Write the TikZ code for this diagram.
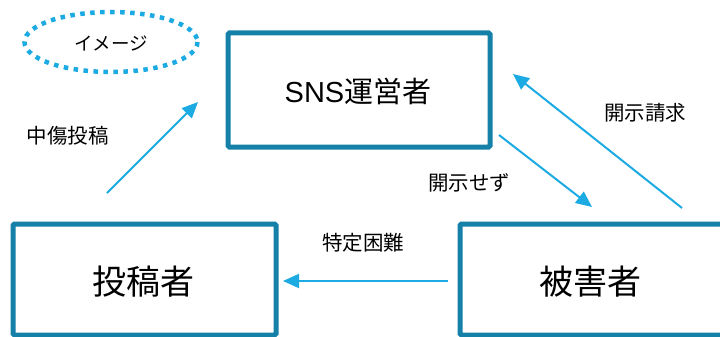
\documentclass[tikz,border=0pt]{standalone}
\usepackage{fontspec}
\setmainfont{Noto Sans CJK JP}
\newfontfamily\latinsans{Liberation Sans}
\usetikzlibrary{arrows.meta}
\definecolor{boxblue}{HTML}{1580A8}
\definecolor{arrblue}{HTML}{1BAAE2}
\tikzset{
  box/.style={draw=boxblue, line width=5pt, rounded corners=1.5pt, inner sep=0pt},
  bigtext/.style={font=\fontsize{34}{38}\selectfont, text=black, inner sep=0pt},
  smalltext/.style={font=\fontsize{20.5}{24}\selectfont, text=black, inner sep=0pt},
  conn/.style={draw=arrblue, line width=2pt, -{Triangle[length=16pt,width=14pt]}},
}
\begin{document}
\begin{tikzpicture}[x=1pt,y=-1pt]
\useasboundingbox (0,0) rectangle (720,337);
\clip (0,0) rectangle (720,337);
% legend ellipse
\draw[arrblue, line width=4.5pt, dash pattern=on 4.5pt off 5.5pt] (111,42) ellipse [x radius=86.5, y radius=30];
\node[smalltext, font=\fontsize{18.5}{22}\selectfont] (img) at (111,43) {イメージ};
% boxes
\node[box, minimum width=262pt, minimum height=114pt] (sns) at (359,90) {};
\node[bigtext, font=\fontsize{29}{34}\selectfont] (snst) at (358,91) {{\latinsans SNS}運営者};
\node[box, minimum width=263pt, minimum height=111pt] (poster) at (144.5,279.5) {};
\node[bigtext] (postert) at (143,282) {投稿者};
\node[box, minimum width=300pt, minimum height=111pt] (victim) at (610,279.5) {};
\node[bigtext] (victimt) at (590,282) {被害者};
% arrow endpoints
\coordinate (a1s) at (107,193);
\coordinate (a1e) at (198,102);
\coordinate (a2s) at (499,135);
\coordinate (a2e) at (592,207);
\coordinate (a3s) at (682,208);
\coordinate (a3e) at (513,74);
\coordinate (a4s) at (448,281);
\coordinate (a4e) at (283,281);
\draw[conn] (a1s) -- (a1e);
\draw[conn] (a2s) -- (a2e);
\draw[conn] (a3s) -- (a3e);
\draw[conn] (a4s) -- (a4e);
% labels
\node[smalltext] (l1) at (68,136) {中傷投稿};
\node[smalltext] (l2) at (469,183) {開示せず};
\node[smalltext] (l3) at (645,113) {開示請求};
\node[smalltext] (l4) at (363,243) {特定困難};
\end{tikzpicture}
\end{document}
